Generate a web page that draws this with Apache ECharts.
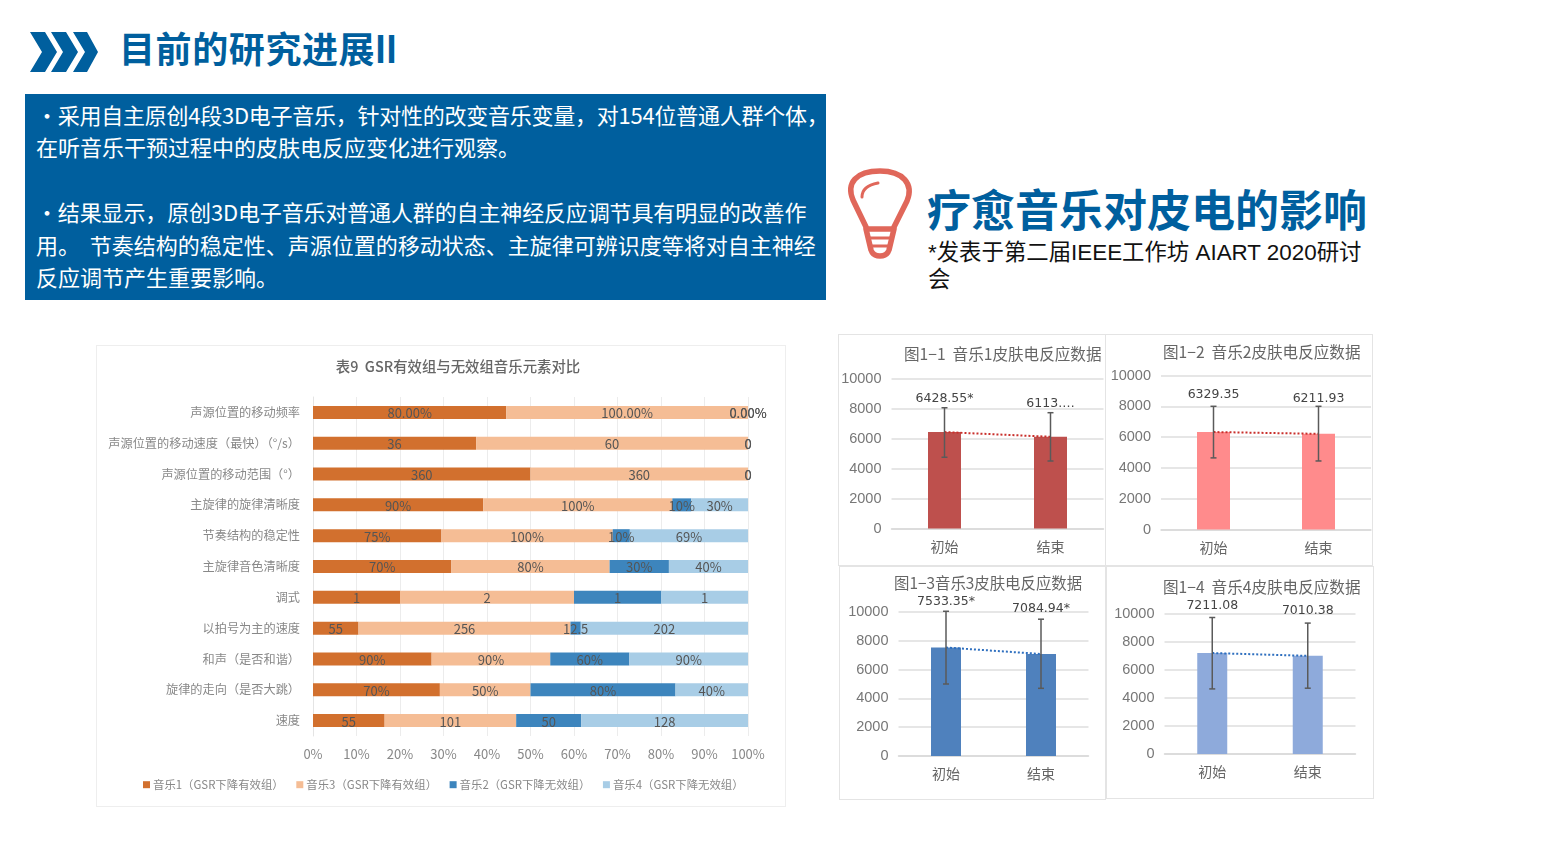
<!DOCTYPE html>
<html lang="zh"><head><meta charset="utf-8">
<script src="https://cdn.jsdelivr.net/npm/echarts@6/dist/echarts.min.js"></script>
<style>
html,body{margin:0;padding:0;background:#fff;}
body{width:1544px;height:868px;position:relative;overflow:hidden;font-family:"Liberation Sans","Noto Sans CJK SC",sans-serif;}
.abs{position:absolute;white-space:nowrap;}
.panel{position:absolute;box-sizing:border-box;border:1.5px solid #e4e4e4;background:#fff;filter:blur(.45px);}
.panel>div{position:absolute;left:-1.5px;top:-1.5px;}
</style></head><body>
<svg class="abs" style="left:0;top:0" width="1544" height="300">
  <g fill="#005f9e">
    <polygon points="30,32 45,32 57,52 45,72 30,72 42,52"/>
    <polygon points="51,32 66,32 78,52 66,72 51,72 63,52"/>
    <polygon points="73,32 87,32 98,52 87,72 73,72 85,52"/>
  </g>
  <g fill="none" stroke="#E0675A" stroke-width="5.5" stroke-linecap="round" stroke-linejoin="round">
    <path d="M867,229 L853,200 C846,183 856,171 880,171 C903,171 914,184 907,201 L893,229 Z"/>
    <path d="M866,229 L871,250 Q873,256 880,256 Q887,256 889,250 L894,229"/>
    <path d="M868,238 L892,238" stroke-width="3"/>
    <path d="M870,246 L890,246" stroke-width="3"/>
    <path d="M862,197 Q862,186 878,183" stroke-width="3"/>
  </g>
</svg>
<div class="abs" style="left:119px;top:23px;font-size:36px;line-height:48px;font-weight:700;color:#005f9e;letter-spacing:.6px;font-family:'Noto Sans CJK SC',sans-serif">目前的研究进展<span style="font-family:'Liberation Sans';font-weight:700;font-size:38px">ll</span></div>
<div class="abs" style="left:25px;top:94px;width:801px;height:206px;background:#005f9e"></div>
<div class="abs" style="left:36px;top:98px;font-size:22px;line-height:32.4px;color:#fff;font-family:'Noto Sans CJK SC',sans-serif;font-weight:400">
<span style="letter-spacing:-.25px">・采用自主原创4段3D电子音乐，针对性的改变音乐变量，对154位普通人群个体，</span><br>
在听音乐干预过程中的皮肤电反应变化进行观察。<br><br>
<span style="letter-spacing:-.14px">・结果显示，原创3D电子音乐对普通人群的自主神经反应调节具有明显的改善作</span><br>
用。&nbsp;&nbsp;节奏结构的稳定性、声源位置的移动状态、主旋律可辨识度等将对自主神经<br>
反应调节产生重要影响。</div>
<div class="abs" style="left:927px;top:177px;font-size:44px;line-height:62px;font-weight:700;color:#005f9e;font-family:'Noto Sans CJK SC',sans-serif">疗愈音乐对皮电的影响</div>
<div class="abs" style="left:928px;top:239px;font-size:22.4px;line-height:27px;color:#111;">*发表于第二届IEEE工作坊 AIART 2020研讨<br>会</div>

<div class="panel" style="left:96px;top:345px;width:690px;height:462px;border-color:#eee"><div id="table9" style="width:690px;height:462px"></div></div>
<div class="panel" style="left:838px;top:334px;width:268px;height:232px"><div id="p1" style="width:268px;height:232px"></div></div>
<div class="panel" style="left:1105px;top:334px;width:268px;height:232px"><div id="p2" style="width:268px;height:232px"></div></div>
<div class="panel" style="left:839px;top:566px;width:267px;height:234px"><div id="p3" style="width:267px;height:234px"></div></div>
<div class="panel" style="left:1106px;top:566px;width:268px;height:233px"><div id="p4" style="width:268px;height:233px"></div></div>

<script>
const tableTitle = '表9  GSR有效组与无效组音乐元素对比';
const tableCategories = ['声源位置的移动频率','声源位置的移动速度（最快）（°/s）','声源位置的移动范围（°）','主旋律的旋律清晰度','节奏结构的稳定性','主旋律音色清晰度','调式','以拍号为主的速度','和声（是否和谐）','旋律的走向（是否大跳）','速度'];
const music1Values = [80,36,360,90,75,70,1,55,90,70,55];
const music3Values = [100,60,360,100,100,80,2,256,90,50,101];
const music2Values = [0,0,0,10,10,30,1,12.5,60,80,50];
const music4Values = [0,0,0,30,69,40,1,202,90,40,128];
const music1Labels = ['80.00%','36','360','90%','75%','70%','1','55','90%','70%','55'];
const music3Labels = ['100.00%','60','360','100%','100%','80%','2','256','90%','50%','101'];
const music2Labels = ['0.00%','0','0','10%','10%','30%','1','12.5','60%','80%','50'];
const music4Labels = ['0.00%','0','0','30%','69%','40%','1','202','90%','40%','128'];
const legendNames = ['音乐1（GSR下降有效组）','音乐3（GSR下降有效组）','音乐2（GSR下降无效组）','音乐4（GSR下降无效组）'];
const timeCategories = ['初始','结束'];
const p1Means = [6428.55,6113];   const p1Low = [4750,4500]; const p1High = [8050,7720]; const p1Labels = ['6428.55*','6113.…'];
const p2Means = [6329.35,6211.93];const p2Low = [4650,4450]; const p2High = [8000,8000]; const p2Labels = ['6329.35','6211.93'];
const p3Means = [7533.35,7084.94];const p3Low = [5000,4700]; const p3High = [10050,9500];const p3Labels = ['7533.35*','7084.94*'];
const p4Means = [7211.08,7010.38];const p4Low = [4650,4700]; const p4High = [9750,9350]; const p4Labels = ['7211.08','7010.38'];

const FONT = '"Noto Sans CJK SC",sans-serif';
const rowTotals = tableCategories.map((_, i) => music1Values[i]+music3Values[i]+music2Values[i]+music4Values[i]);
function stackSeries(name, values, labels, color){
  return {
    name, type:'bar', stack:'s', barWidth:13, itemStyle:{color},
    data: values.map((v,i)=>v/rowTotals[i]*100),
    label:{show:true,position:'inside',offset:[0,1],color:'#555',fontSize:13,fontFamily:FONT,
      formatter:p=>labels[p.dataIndex]}
  };
}
echarts.init(document.getElementById('table9')).setOption({
  animation:false,
  title:{text:tableTitle,left:357,top:9,textAlign:'center',textStyle:{fontSize:14.4,fontWeight:500,color:'#666',fontFamily:FONT}},
  legend:{left:42,top:429,itemWidth:7,itemHeight:7,itemGap:12.6,icon:'rect',
    textStyle:{fontSize:11.4,color:'#888',fontFamily:FONT,padding:[0,0,0,-2]},data:legendNames},
  grid:{left:217,right:38,top:52,height:339},
  xAxis:{type:'value',min:0,max:100,interval:10,
    axisLabel:{formatter:'{value}%',fontSize:13,color:'#888',margin:12,fontFamily:FONT},
    axisLine:{show:false},axisTick:{show:false},
    splitLine:{show:true,lineStyle:{color:'#ececec',width:1}}},
  yAxis:{type:'category',inverse:true,data:tableCategories,
    axisLabel:{fontSize:12.2,color:'#888',margin:13,fontFamily:FONT},
    axisTick:{show:false},axisLine:{show:true,lineStyle:{color:'#e4e4e4'}}},
  series:[
    stackSeries(legendNames[0],music1Values,music1Labels,'#D2702E'),
    stackSeries(legendNames[1],music3Values,music3Labels,'#F5BD95'),
    stackSeries(legendNames[2],music2Values,music2Labels,'#3D85BD'),
    stackSeries(legendNames[3],music4Values,music4Labels,'#A8CDE6')
  ]
});

function smallChart(id,cfg){
  const {title,titleLeft,titleTop,grid,means,low,high,labels,barColor,lineColor,barWidth,gap,titleSize}=cfg;
  echarts.init(document.getElementById(id)).setOption({
    animation:false,
    title:{text:title,left:titleLeft,top:titleTop,textStyle:{fontSize:titleSize,fontWeight:400,color:'#666',fontFamily:FONT}},
    grid,
    xAxis:{type:'category',data:timeCategories,
      axisLabel:{fontSize:14,color:'#666',margin:11,fontFamily:FONT},
      axisTick:{show:false},axisLine:{lineStyle:{color:'#d9d9d9',width:1.5}}},
    yAxis:{type:'value',min:0,max:10000,interval:2000,
      axisLabel:{fontSize:14.5,color:'#777',margin:10,fontFamily:'"Liberation Sans",sans-serif',formatter:v=>String(v)},
      axisLine:{show:false},axisTick:{show:false},
      splitLine:{lineStyle:{color:'#dedede',width:1.5}}},
    series:[
      {type:'bar',data:means,barWidth,itemStyle:{color:barColor},z:2},
      {type:'line',data:means,showSymbol:false,z:3,lineStyle:{type:'dotted',width:2,color:lineColor}},
      {type:'custom',z:4,data:timeCategories.map((_,i)=>[i,low[i],high[i]]),
       encode:{x:0,y:[1,2]},
       renderItem:(params,api)=>{
         const t=api.coord([api.value(0),api.value(2)]);
         const b=api.coord([api.value(0),api.value(1)]);
         const st={stroke:'#5a5a5a',lineWidth:1.5};
         return {type:'group',children:[
           {type:'line',shape:{x1:t[0],y1:t[1],x2:b[0],y2:b[1]},style:st},
           {type:'line',shape:{x1:t[0]-3,y1:t[1],x2:t[0]+3,y2:t[1]},style:st},
           {type:'line',shape:{x1:b[0]-3,y1:b[1],x2:b[0]+3,y2:b[1]},style:st},
           {type:'text',style:{text:labels[params.dataIndex],x:t[0],y:t[1]-gap[params.dataIndex],
             align:'center',verticalAlign:'middle',fontSize:12.5,
             fontFamily:'"DejaVu Sans",sans-serif',fill:'#444'}}
         ]};
       }}
    ]
  });
}
smallChart('p1',{title:'图1−1  音乐1皮肤电反应数据',titleSize:15.6,titleLeft:61,titleTop:7,grid:{left:53.5,top:44.5,width:212,height:150},
  means:p1Means,low:p1Low,high:p1High,labels:p1Labels,barColor:'#BE504D',lineColor:'#C9302C',barWidth:33,gap:[9,9]});
smallChart('p2',{title:'图1−2  音乐2皮肤电反应数据',titleSize:15.6,titleLeft:53,titleTop:5,grid:{left:56,top:41.5,width:210,height:154},
  means:p2Means,low:p2Low,high:p2High,labels:p2Labels,barColor:'#FF8B8C',lineColor:'#C9302C',barWidth:33,gap:[12,8]});
smallChart('p3',{title:'图1−3音乐3皮肤电反应数据',titleSize:15.4,titleLeft:50,titleTop:4,grid:{left:59.5,top:46,width:190,height:144},
  means:p3Means,low:p3Low,high:p3High,labels:p3Labels,barColor:'#4F81BD',lineColor:'#2E6FBF',barWidth:30,gap:[10,10]});
smallChart('p4',{title:'图1−4  音乐4皮肤电反应数据',titleSize:15.6,titleLeft:52,titleTop:8,grid:{left:58.5,top:48,width:191,height:140},
  means:p4Means,low:p4Low,high:p4High,labels:p4Labels,barColor:'#8EAADB',lineColor:'#2E6FBF',barWidth:30,gap:[12,12]});
</script>
</body></html>
